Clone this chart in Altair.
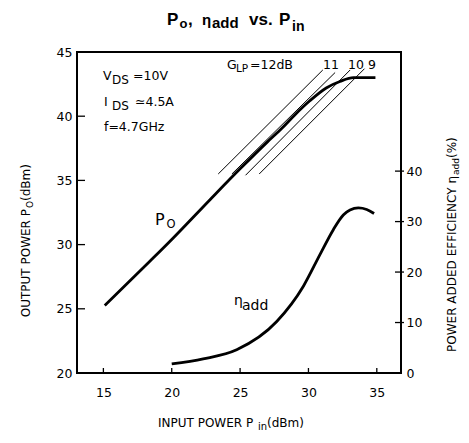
import altair as alt
import pandas as pd

FONT = "DejaVu Sans"
TFONT = "Liberation Sans"

# ---------------- data ----------------
po_pin = [15.1, 18.4, 20.0, 22.8, 25.0, 27.0, 28.0, 29.0, 30.1, 31.3, 32.3, 33.3, 34.9]
po_val = [25.25, 28.7, 30.4, 33.5, 35.9, 38.0, 39.0, 40.1, 41.2, 42.2, 42.7, 43.0, 43.0]

eta_pin = [20.0, 22.3, 24.75, 27.68, 29.63, 30.85, 31.82, 32.55, 33.04, 33.65, 34.26, 34.8]
eta_val = [1.8, 2.8, 4.6, 10.2, 17.2, 23.5, 28.4, 31.3, 32.3, 32.7, 32.4, 31.6]

g_name = ["12", "11", "10", "9"]
g_pin0 = [23.4, 24.4, 25.4, 26.4]
g_po0 = [35.5, 35.5, 35.4, 35.5]
g_pin1 = [31.05, 31.95, 33.05, 34.1]
g_po1 = [43.6, 43.4, 43.6, 43.7]

x_ticks = [15, 20, 25, 30, 35]
left_ticks = [20, 25, 30, 35, 40, 45]
right_ticks = [0, 10, 20, 30, 40]

X_DOM = [13.07, 36.77]
YL_DOM = [20, 45]
YR_DOM = [0, 63.6]

W, H = 324, 321

xs = alt.Scale(domain=X_DOM, nice=False, zero=False)
ysl = alt.Scale(domain=YL_DOM, nice=False, zero=False)
ysr = alt.Scale(domain=YR_DOM, nice=False, zero=False)

X_AXIS = alt.Axis(values=x_ticks, ticks=False, domain=False, grid=False, labelPadding=13,
                  labelFontSize=12.5, title=None, labelColor="black", labelFont=FONT)
YL_AXIS = alt.Axis(values=left_ticks, ticks=False, domain=False, grid=False, labelPadding=5,
                   labelFontSize=12.5, title=None, labelColor="black", labelFont=FONT)
YR_AXIS = alt.Axis(orient="right", values=right_ticks, ticks=False, domain=False, grid=False,
                   labelPadding=5, labelFontSize=12.5, title=None, labelColor="black",
                   labelFont=FONT)

ONE = alt.Data(values=[{}])


def piece(s, x, y, size, weight="normal", angle=0, align="left", font=FONT):
    return alt.Chart(ONE).mark_text(
        text=s, fontSize=size, fontWeight=weight, angle=angle, align=align,
        baseline="alphabetic", font=font, color="black"
    ).encode(x=alt.value(x), y=alt.value(y))


po_df = pd.DataFrame({"pin": po_pin, "po": po_val})
eta_df = pd.DataFrame({"pin": eta_pin, "eta": eta_val})
g_df = pd.DataFrame({"g": g_name, "pin0": g_pin0, "po0": g_po0, "pin1": g_pin1, "po1": g_po1})

po_line = alt.Chart(po_df).mark_line(color="black", strokeWidth=2.8, interpolate="monotone").encode(
    x=alt.X("pin:Q", scale=xs, axis=X_AXIS),
    y=alt.Y("po:Q", scale=ysl, axis=YL_AXIS),
)

g_lines = alt.Chart(g_df).mark_rule(color="black", strokeWidth=1).encode(
    x=alt.X("pin0:Q", scale=xs, axis=X_AXIS),
    y=alt.Y("po0:Q", scale=ysl, axis=YL_AXIS),
    x2="pin1:Q",
    y2="po1:Q",
)

lt_df = pd.DataFrame({"v": [25, 30, 35, 40]})
l_ticks = alt.Chart(lt_df).mark_rule(color="black", strokeWidth=1.3).encode(
    y=alt.Y("v:Q", scale=ysl, axis=YL_AXIS), x=alt.value(0), x2=alt.value(8)
)
xt_df = pd.DataFrame({"v": x_ticks})
x_tick_marks = alt.Chart(xt_df).mark_rule(color="black", strokeWidth=1.3).encode(
    x=alt.X("v:Q", scale=xs, axis=X_AXIS), y=alt.value(H), y2=alt.value(H - 5)
)

texts = [
    # title
    piece("P", 90, -27, 17, "bold", font=TFONT),
    piece("o", 102.5, -24.5, 13, "bold", font=TFONT),
    piece(",", 111, -27, 17, "bold", font=TFONT),
    piece("η", 125, -27, 15, "bold", font=TFONT),
    piece("add", 135, -24, 15, "bold", font=TFONT),
    piece("vs.", 172, -27, 17, "bold", font=TFONT),
    piece("P", 202, -27, 17, "bold", font=TFONT),
    piece("in", 215, -21, 14, "bold", font=TFONT),
    # bottom axis title
    piece("INPUT POWER  P", 81, 375, 12),
    piece("in", 181, 377.5, 10),
    piece(" (dBm)", 190, 375, 12),
    # left axis title (rotated)
    piece("OUTPUT POWER  P", -47, 157, 12, angle=270, align="right"),
    piece("O", -44, 156, 9, angle=270, align="left"),
    piece(" (dBm)", -47, 149, 12, angle=270, align="left"),
    # right axis title (rotated)
    piece("POWER ADDED EFFICIENCY  η", 379, 124, 12, angle=270, align="right"),
    piece("add", 382, 123, 9, angle=270, align="left"),
    piece(" (%)", 379, 106, 12, angle=270, align="left"),
    # conditions
    piece("V", 26, 28, 12.5),
    piece("DS", 35, 32, 12),
    piece("=10V", 56, 28, 12.5),
    piece("I", 27, 54, 12.5),
    piece("DS", 35, 58, 12),
    piece("≃4.5A", 58, 54, 12.5),
    piece("f=4.7GHz", 27, 79, 12.5),
    # gain labels
    piece("G", 150, 17, 12.5),
    piece("LP", 159, 20, 10.5),
    piece("=12dB", 173, 17, 12.5),
    piece("11", 246, 17, 12.5),
    piece("10", 271, 17, 12.5),
    piece("9", 291, 17, 12.5),
    # curve labels
    piece("P", 78, 173, 16),
    piece("O", 89.5, 175.5, 11.5),
    piece("η", 157, 253, 14),
    piece("add", 165, 258, 14),
]

left_group = alt.layer(po_line, g_lines, l_ticks, x_tick_marks, *texts)

eta_line = alt.Chart(eta_df).mark_line(color="black", strokeWidth=2.8, interpolate="monotone").encode(
    x=alt.X("pin:Q", scale=xs, axis=X_AXIS),
    y=alt.Y("eta:Q", scale=ysr, axis=YR_AXIS),
)
rt_df = pd.DataFrame({"v": [10, 20, 30, 40]})
r_ticks = alt.Chart(rt_df).mark_rule(color="black", strokeWidth=1.3).encode(
    y=alt.Y("v:Q", scale=ysr, axis=YR_AXIS), x=alt.value(W - 6), x2=alt.value(W + 3)
)
right_group = alt.layer(eta_line, r_ticks)

chart = alt.layer(left_group, right_group).resolve_scale(y="independent").properties(
    width=W, height=H,
    padding={"left": 69, "top": 44, "right": 60, "bottom": 58},
    autosize=alt.AutoSizeParams(type="none"),
).configure_view(stroke="black", strokeWidth=2).configure_axis(grid=False)

chart.save("out.html", embed_options={"renderer": "svg", "actions": False})
